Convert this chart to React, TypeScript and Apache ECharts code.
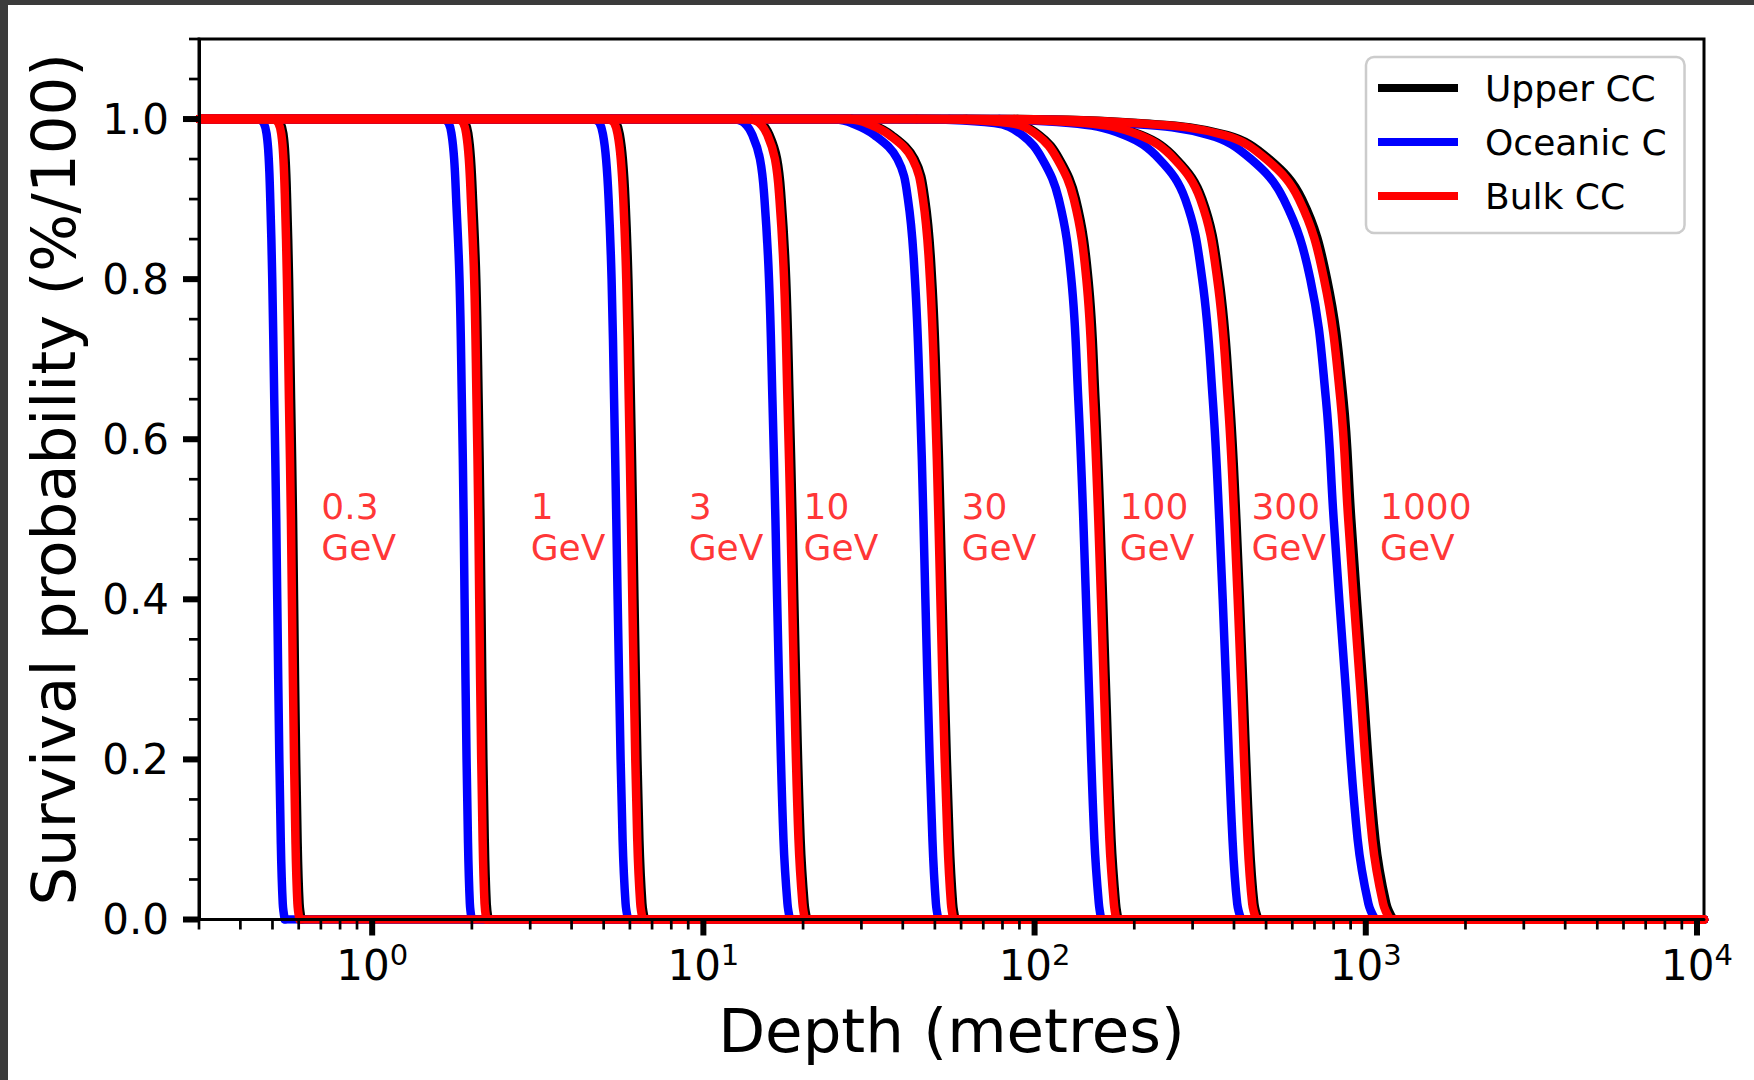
import React, { useEffect, useRef } from 'react';
import * as echarts from 'echarts';

// Muon energies (GeV) of each bundle of curves
const energies = ['0.3', '1', '3', '10', '30', '100', '300', '1000'];

// Survival probability levels at which the depths below were read
const probLevels = [1, 0.995, 0.98, 0.95, 0.9, 0.8, 0.65, 0.5, 0.3, 0.1, 0.02, 0];

// Depths (metres) for each energy, one row per energy, one column per probability level
const oceanicC = [
  [0.4545, 0.4706, 0.4805, 0.4872, 0.4923, 0.4992, 0.5062, 0.5133, 0.5204, 0.5296, 0.537, 0.5445],
  [1.644, 1.702, 1.738, 1.768, 1.793, 1.835, 1.865, 1.889, 1.913, 1.946, 1.972, 1.997],
  [4.694, 4.86, 4.979, 5.084, 5.174, 5.282, 5.375, 5.458, 5.565, 5.702, 5.822, 5.923],
  [12.41, 13.3, 14.06, 14.82, 15.29, 15.78, 16.16, 16.5, 16.91, 17.45, 17.94, 18.26],
  [24.87, 27.99, 32.85, 38.54, 41.46, 43.53, 45.06, 46.17, 47.47, 49.15, 50.36, 51.24],
  [39.06, 75.6, 91.8, 105.5, 118.3, 129.1, 135.5, 140.3, 145.6, 151.5, 156.3, 159.0],
  [55.28, 127.2, 186.5, 237.9, 285.0, 320.7, 345.1, 361.0, 378.2, 395.9, 409.0, 420.6],
  [78.25, 180.1, 336.8, 450.0, 565.0, 680.0, 758.0, 800.0, 866.0, 945.0, 1018, 1068],
];

const bulkCC = [
  [0.5033, 0.5211, 0.5321, 0.5395, 0.5452, 0.5528, 0.5606, 0.5684, 0.5763, 0.5865, 0.5947, 0.603],
  [1.821, 1.885, 1.925, 1.958, 1.986, 2.032, 2.065, 2.092, 2.118, 2.155, 2.184, 2.211],
  [5.198, 5.382, 5.514, 5.63, 5.73, 5.849, 5.952, 6.044, 6.163, 6.314, 6.447, 6.559],
  [13.78, 14.76, 15.61, 16.45, 16.97, 17.52, 17.94, 18.32, 18.77, 19.37, 19.91, 20.27],
  [27.61, 31.07, 36.46, 42.78, 46.02, 48.32, 50.02, 51.25, 52.69, 54.56, 55.9, 56.88],
  [43.36, 83.92, 101.9, 117.1, 131.3, 143.3, 150.4, 155.7, 161.6, 168.2, 173.5, 176.5],
  [61.36, 141.2, 207.0, 264.1, 316.4, 356.0, 383.1, 400.7, 419.8, 439.4, 454.0, 466.9],
  [86.86, 199.9, 373.8, 500.0, 628.0, 748.0, 838.0, 885.0, 958.0, 1046, 1128, 1185],
];

const upperCC = [
  [0.5108, 0.5289, 0.5401, 0.5476, 0.5534, 0.5611, 0.569, 0.5769, 0.5849, 0.5953, 0.6036, 0.612],
  [1.848, 1.913, 1.954, 1.987, 2.016, 2.062, 2.096, 2.123, 2.15, 2.187, 2.217, 2.244],
  [5.276, 5.463, 5.597, 5.714, 5.816, 5.937, 6.041, 6.135, 6.255, 6.409, 6.544, 6.657],
  [13.98, 14.98, 15.84, 16.7, 17.22, 17.78, 18.21, 18.59, 19.05, 19.66, 20.21, 20.57],
  [28.02, 31.54, 37.01, 43.42, 46.71, 49.04, 50.77, 52.02, 53.48, 55.38, 56.74, 57.73],
  [44.01, 85.18, 103.4, 118.9, 133.3, 145.4, 152.7, 158.0, 164.0, 170.7, 176.1, 179.1],
  [62.28, 143.3, 210.1, 268.1, 321.1, 361.3, 388.8, 406.7, 426.1, 446.0, 460.8, 473.9],
  [88.77, 204.3, 382.0, 511.0, 642.0, 764.0, 856.0, 904.0, 979.0, 1069, 1153, 1211],
];

// Energy annotation positions (depth in metres, probability)
const labelDepths = [0.7, 3, 9, 20, 60, 180, 450, 1100];
const labelProb = 0.49;

// Axis extents and ticks
const xMin = 0.3;
const xMax = 10500;
const xMajorTicks = [1, 10, 100, 1000, 10000];
const xMinorTicks = [
  0.3, 0.4, 0.5, 0.6, 0.7, 0.8, 0.9,
  2, 3, 4, 5, 6, 7, 8, 9,
  20, 30, 40, 50, 60, 70, 80, 90,
  200, 300, 400, 500, 600, 700, 800, 900,
  2000, 3000, 4000, 5000, 6000, 7000, 8000, 9000,
];
const yMin = 0;
const yMax = 1.1;
const yMajorTicks = [0, 0.2, 0.4, 0.6, 0.8, 1.0];
const yMinorTicks = [0.05, 0.1, 0.15, 0.25, 0.3, 0.35, 0.45, 0.5, 0.55, 0.65, 0.7, 0.75, 0.85, 0.9, 0.95, 1.05, 1.1];

const rockTypes = [
  { name: 'Upper CC', color: '#000000', depths: upperCC },
  { name: 'Oceanic C', color: '#0000ff', depths: oceanicC },
  { name: 'Bulk CC', color: '#ff0000', depths: bulkCC },
];

const FONT = 'DejaVu Sans';
const LINE_W = 8.5;

export default function App() {
  const ref = useRef<HTMLDivElement>(null);

  useEffect(() => {
    if (!ref.current) return;
    const chart = echarts.init(ref.current, null, { renderer: 'svg' });

    const lineSeries: any[] = [];
    const base = (name: string, color: string, data: number[][], smooth: number) => ({
      type: 'line',
      name,
      data,
      showSymbol: false,
      symbol: 'none',
      silent: true,
      clip: true,
      smooth,
      lineStyle: { color, width: LINE_W, join: 'round', cap: 'round' },
      itemStyle: { color },
      emphasis: { disabled: true },
      z: 2,
    });
    rockTypes.forEach((rt) => {
      rt.depths.forEach((row) => {
        const body: number[][] = row.map((d, i) => [d, probLevels[i]]);
        const head = [[xMin, probLevels[0]], body[0]];
        const tail = [body[body.length - 1], [xMax, probLevels[probLevels.length - 1]]];
        lineSeries.push(base(rt.name, rt.color, head, 0));
        lineSeries.push(base(rt.name, rt.color, body, 0.4));
        lineSeries.push(base(rt.name, rt.color, tail, 0));
      });
    });

    const tickData: number[][] = [];
    xMajorTicks.forEach((v) => tickData.push([v, yMin, 0]));
    xMinorTicks.forEach((v) => tickData.push([v, yMin, 1]));
    yMajorTicks.forEach((v) => tickData.push([xMin, v, 2]));
    yMinorTicks.forEach((v) => tickData.push([xMin, v, 3]));

    const option: any = {
      animation: false,
      backgroundColor: '#ffffff',
      textStyle: { fontFamily: FONT },
      graphic: [
        { type: 'rect', shape: { x: 0, y: 0, width: 8, height: 1080 }, style: { fill: '#3b3b3b' }, z: 100 },
        { type: 'rect', shape: { x: 0, y: 0, width: 1754, height: 5 }, style: { fill: '#3b3b3b' }, z: 100 },
      ],
      grid: {
        left: 199,
        top: 39,
        right: 50,
        bottom: 160.5,
        show: true,
        borderColor: '#000',
        borderWidth: 3,
        backgroundColor: '#fff',
      },
      legend: {
        data: rockTypes.map((r) => r.name),
        orient: 'vertical',
        left: 1366,
        top: 57,
        icon: 'rect',
        itemWidth: 80,
        itemHeight: 8,
        itemGap: 10,
        padding: [9, 18, 15, 12],
        backgroundColor: '#ffffff',
        borderColor: '#cccccc',
        borderWidth: 2.5,
        borderRadius: 8,
        selectedMode: false,
        textStyle: {
          fontFamily: FONT,
          fontSize: 36,
          color: '#000',
          lineHeight: 44,
          padding: [0, 0, 0, 22],
        },
      },
      xAxis: {
        type: 'log',
        logBase: 10,
        min: xMin,
        max: xMax,
        z: 3,
        axisLine: { show: true, lineStyle: { color: '#000', width: 3 } },
        axisTick: { show: false },
        minorTick: { show: false },
        splitLine: { show: false },
        minorSplitLine: { show: false },
        axisLabel: {
          margin: 21,
          showMinLabel: false,
          showMaxLabel: false,
          color: '#000',
          formatter: (v: number) => `{b|10}{s|${Math.round(Math.log10(v))}}`,
          rich: {
            b: { fontFamily: FONT, fontSize: 42, lineHeight: 50, verticalAlign: 'middle', color: '#000' },
            s: { fontFamily: FONT, fontSize: 29, lineHeight: 24, verticalAlign: 'top', color: '#000' },
          },
        },
        name: 'Depth (metres)',
        nameLocation: 'middle',
        nameGap: 80,
        nameTextStyle: { fontFamily: FONT, fontSize: 61, color: '#000' },
      },
      yAxis: {
        type: 'value',
        min: yMin,
        max: yMax,
        interval: 0.2,
        z: 3,
        axisLine: { show: true, lineStyle: { color: '#000', width: 3 } },
        axisTick: { show: false },
        minorTick: { show: false },
        splitLine: { show: false },
        axisLabel: {
          margin: 30,
          showMaxLabel: false,
          fontFamily: FONT,
          fontSize: 42,
          color: '#000',
          formatter: (v: number) => v.toFixed(1),
        },
        name: 'Survival probability (%/100)',
        nameLocation: 'middle',
        nameGap: 115,
        nameTextStyle: { fontFamily: FONT, fontSize: 61, color: '#000' },
      },
      series: [
        ...lineSeries,
        {
          type: 'scatter',
          name: 'energy labels',
          silent: true,
          symbolSize: 1,
          itemStyle: { color: 'transparent' },
          data: energies.map((e, i) => ({ name: `${e}\nGeV`, value: [labelDepths[i], labelProb] })),
          label: {
            show: true,
            position: 'right',
            distance: 0,
            formatter: '{b}',
            color: '#ff0000',
            fontFamily: FONT,
            fontSize: 36,
            lineHeight: 41,
            align: 'left',
          },
          z: 5,
        },
        {
          type: 'custom',
          name: 'ticks',
          silent: true,
          clip: false,
          data: tickData,
          z: 6,
          renderItem: (params: any, api: any) => {
            const kind = api.value(2);
            const p = api.coord([api.value(0), api.value(1)]);
            let shape;
            let w;
            if (kind === 0) {
              shape = { x1: p[0], y1: p[1], x2: p[0], y2: p[1] + 16 };
              w = 6;
            } else if (kind === 1) {
              shape = { x1: p[0], y1: p[1], x2: p[0], y2: p[1] + 10 };
              w = 2.7;
            } else if (kind === 2) {
              shape = { x1: p[0] - 16, y1: p[1], x2: p[0], y2: p[1] };
              w = 6;
            } else {
              shape = { x1: p[0] - 10, y1: p[1], x2: p[0], y2: p[1] };
              w = 2.7;
            }
            return { type: 'line', shape, style: { stroke: '#000', lineWidth: w } };
          },
        },
      ],
    };

    chart.setOption(option);
    return () => chart.dispose();
  }, []);

  return (
    <div
      ref={ref}
      style={{ position: 'fixed', left: 0, top: 0, width: 1754, height: 1080 }}
    />
  );
}
